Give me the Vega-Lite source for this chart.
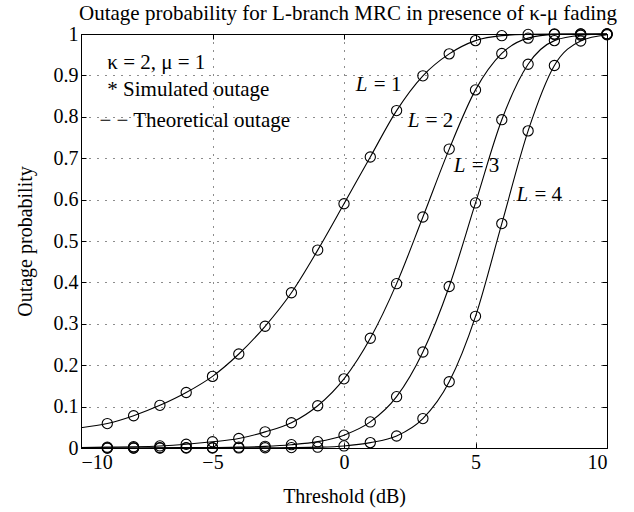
{
  "$schema": "https://vega.github.io/schema/vega-lite/v6.json",
  "autosize": {"type": "none"},
  "padding": {"left": 81, "top": 34, "right": 27, "bottom": 64},
  "width": 526,
  "height": 414,
  "background": "white",
  "title": {
    "text": "Outage probability for L-branch MRC in presence of κ-μ fading",
    "font": "Liberation Serif",
    "fontSize": 21,
    "fontWeight": "normal",
    "color": "black",
    "offset": 0,
    "dx": 4
  },
  "config": {
    "view": {"stroke": "black", "strokeWidth": 1},
    "axis": {
      "labelFont": "Liberation Serif",
      "labelFontSize": 20,
      "labelColor": "black",
      "titleFont": "Liberation Serif",
      "titleFontSize": 20,
      "titleFontWeight": "normal",
      "titleColor": "black",
      "domain": false,
      "tickColor": "black",
      "tickSize": -5,
      "gridColor": "black",
      "gridDash": [1, 7],
      "gridOpacity": 0.9
    }
  },
  "datasets": {
    "curves": [
      {"x": -10, "y": 0.049, "L": 1}, {"x": -9, "y": 0.059, "L": 1}, {"x": -8, "y": 0.078, "L": 1}, {"x": -7, "y": 0.103, "L": 1}, {"x": -6, "y": 0.134, "L": 1}, {"x": -5, "y": 0.173, "L": 1}, {"x": -4, "y": 0.227, "L": 1}, {"x": -3, "y": 0.294, "L": 1}, {"x": -2, "y": 0.375, "L": 1}, {"x": -1, "y": 0.478, "L": 1}, {"x": 0, "y": 0.590, "L": 1}, {"x": 1, "y": 0.703, "L": 1}, {"x": 2, "y": 0.815, "L": 1}, {"x": 3, "y": 0.899, "L": 1}, {"x": 4, "y": 0.952, "L": 1}, {"x": 5, "y": 0.984, "L": 1}, {"x": 6, "y": 0.996, "L": 1}, {"x": 7, "y": 0.999, "L": 1}, {"x": 8, "y": 1.0, "L": 1}, {"x": 9, "y": 1.0, "L": 1}, {"x": 10, "y": 1.0, "L": 1},
      {"x": -10, "y": 0.001, "L": 2}, {"x": -9, "y": 0.002, "L": 2}, {"x": -8, "y": 0.003, "L": 2}, {"x": -7, "y": 0.005, "L": 2}, {"x": -6, "y": 0.009, "L": 2}, {"x": -5, "y": 0.015, "L": 2}, {"x": -4, "y": 0.023, "L": 2}, {"x": -3, "y": 0.039, "L": 2}, {"x": -2, "y": 0.061, "L": 2}, {"x": -1, "y": 0.102, "L": 2}, {"x": 0, "y": 0.167, "L": 2}, {"x": 1, "y": 0.265, "L": 2}, {"x": 2, "y": 0.397, "L": 2}, {"x": 3, "y": 0.558, "L": 2}, {"x": 4, "y": 0.722, "L": 2}, {"x": 5, "y": 0.865, "L": 2}, {"x": 6, "y": 0.953, "L": 2}, {"x": 7, "y": 0.990, "L": 2}, {"x": 8, "y": 0.999, "L": 2}, {"x": 9, "y": 1.0, "L": 2}, {"x": 10, "y": 1.0, "L": 2},
      {"x": -10, "y": 0.0, "L": 3}, {"x": -9, "y": 0.0, "L": 3}, {"x": -8, "y": 0.0, "L": 3}, {"x": -7, "y": 0.0005, "L": 3}, {"x": -6, "y": 0.001, "L": 3}, {"x": -5, "y": 0.001, "L": 3}, {"x": -4, "y": 0.002, "L": 3}, {"x": -3, "y": 0.004, "L": 3}, {"x": -2, "y": 0.008, "L": 3}, {"x": -1, "y": 0.0153, "L": 3}, {"x": 0, "y": 0.031, "L": 3}, {"x": 1, "y": 0.063, "L": 3}, {"x": 2, "y": 0.124, "L": 3}, {"x": 3, "y": 0.232, "L": 3}, {"x": 4, "y": 0.390, "L": 3}, {"x": 5, "y": 0.592, "L": 3}, {"x": 6, "y": 0.793, "L": 3}, {"x": 7, "y": 0.927, "L": 3}, {"x": 8, "y": 0.984, "L": 3}, {"x": 9, "y": 0.997, "L": 3}, {"x": 10, "y": 1.0, "L": 3},
      {"x": -10, "y": 0.0, "L": 4}, {"x": -9, "y": 0.0, "L": 4}, {"x": -8, "y": 0.0, "L": 4}, {"x": -7, "y": 0.0, "L": 4}, {"x": -6, "y": 0.0, "L": 4}, {"x": -5, "y": 0.0, "L": 4}, {"x": -4, "y": 0.0002, "L": 4}, {"x": -3, "y": 0.0005, "L": 4}, {"x": -2, "y": 0.001, "L": 4}, {"x": -1, "y": 0.002, "L": 4}, {"x": 0, "y": 0.005, "L": 4}, {"x": 1, "y": 0.013, "L": 4}, {"x": 2, "y": 0.029, "L": 4}, {"x": 3, "y": 0.071, "L": 4}, {"x": 4, "y": 0.160, "L": 4}, {"x": 5, "y": 0.318, "L": 4}, {"x": 6, "y": 0.542, "L": 4}, {"x": 7, "y": 0.766, "L": 4}, {"x": 8, "y": 0.924, "L": 4}, {"x": 9, "y": 0.983, "L": 4}, {"x": 10, "y": 0.998, "L": 4}
    ],
    "notes": [
      {"x": -9.0, "y": 0.931, "text": "κ = 2, μ = 1"},
      {"x": -9.0, "y": 0.864, "text": "* Simulated outage"},
      {"x": -9.3, "y": 0.791, "text": "− −  Theoretical outage"}
    ],
    "labels": [
      {"x": 0.45, "y": 0.876, "name": "L", "rest": "= 1"},
      {"x": 2.42, "y": 0.790, "name": "L", "rest": "= 2"},
      {"x": 4.17, "y": 0.680, "name": "L", "rest": "= 3"},
      {"x": 6.56, "y": 0.610, "name": "L", "rest": "= 4"}
    ]
  },
  "layer": [
    {
      "data": {"name": "curves"},
      "mark": {"type": "line", "color": "black", "strokeWidth": 1.1, "interpolate": "monotone"},
      "encoding": {
        "x": {"field": "x", "type": "quantitative", "scale": {"domain": [-10, 10], "nice": false},
              "axis": {"orient": "bottom", "values": [-10, -5, 0, 5, 10], "title": "Threshold (dB)", "labelPadding": 9, "titlePadding": 14, "grid": true}},
        "y": {"field": "y", "type": "quantitative", "scale": {"domain": [0, 1], "nice": false, "zero": false},
              "axis": {"orient": "left", "values": [0, 0.1, 0.2, 0.3, 0.4, 0.5, 0.6, 0.7, 0.8, 0.9, 1], "format": "~g", "title": "Outage probability", "labelPadding": 8, "titlePadding": 18, "grid": true}},
        "detail": {"field": "L", "type": "nominal"}
      }
    },
    {
      "data": {"name": "curves"},
      "transform": [{"filter": "datum.x > -10"}],
      "mark": {"type": "point", "shape": "circle", "filled": false, "color": "black", "size": 105, "strokeWidth": 1.1, "opacity": 1},
      "encoding": {
        "x": {"field": "x", "type": "quantitative", "axis": {"orient": "top", "values": [-10, -5, 0, 5, 10], "labels": false, "title": null, "grid": false}},
        "y": {"field": "y", "type": "quantitative", "axis": {"orient": "right", "values": [0, 0.1, 0.2, 0.3, 0.4, 0.5, 0.6, 0.7, 0.8, 0.9, 1], "labels": false, "title": null, "grid": false}}
      }
    },
    {
      "data": {"name": "notes"},
      "mark": {"type": "text", "align": "left", "baseline": "middle", "font": "Liberation Serif", "fontSize": 21, "color": "black"},
      "encoding": {
        "x": {"field": "x", "type": "quantitative", "axis": null},
        "y": {"field": "y", "type": "quantitative", "axis": null},
        "text": {"field": "text"}
      }
    },
    {
      "data": {"name": "labels"},
      "mark": {"type": "text", "align": "left", "baseline": "middle", "font": "Liberation Serif", "fontSize": 21, "fontStyle": "italic", "color": "black"},
      "encoding": {
        "x": {"field": "x", "type": "quantitative", "axis": null},
        "y": {"field": "y", "type": "quantitative", "axis": null},
        "text": {"field": "name"}
      }
    },
    {
      "data": {"name": "labels"},
      "mark": {"type": "text", "align": "left", "baseline": "middle", "font": "Liberation Serif", "fontSize": 21, "color": "black", "dx": 18},
      "encoding": {
        "x": {"field": "x", "type": "quantitative", "axis": null},
        "y": {"field": "y", "type": "quantitative", "axis": null},
        "text": {"field": "rest"}
      }
    }
  ],
  "resolve": {"axis": {"x": "independent", "y": "independent"}}
}
